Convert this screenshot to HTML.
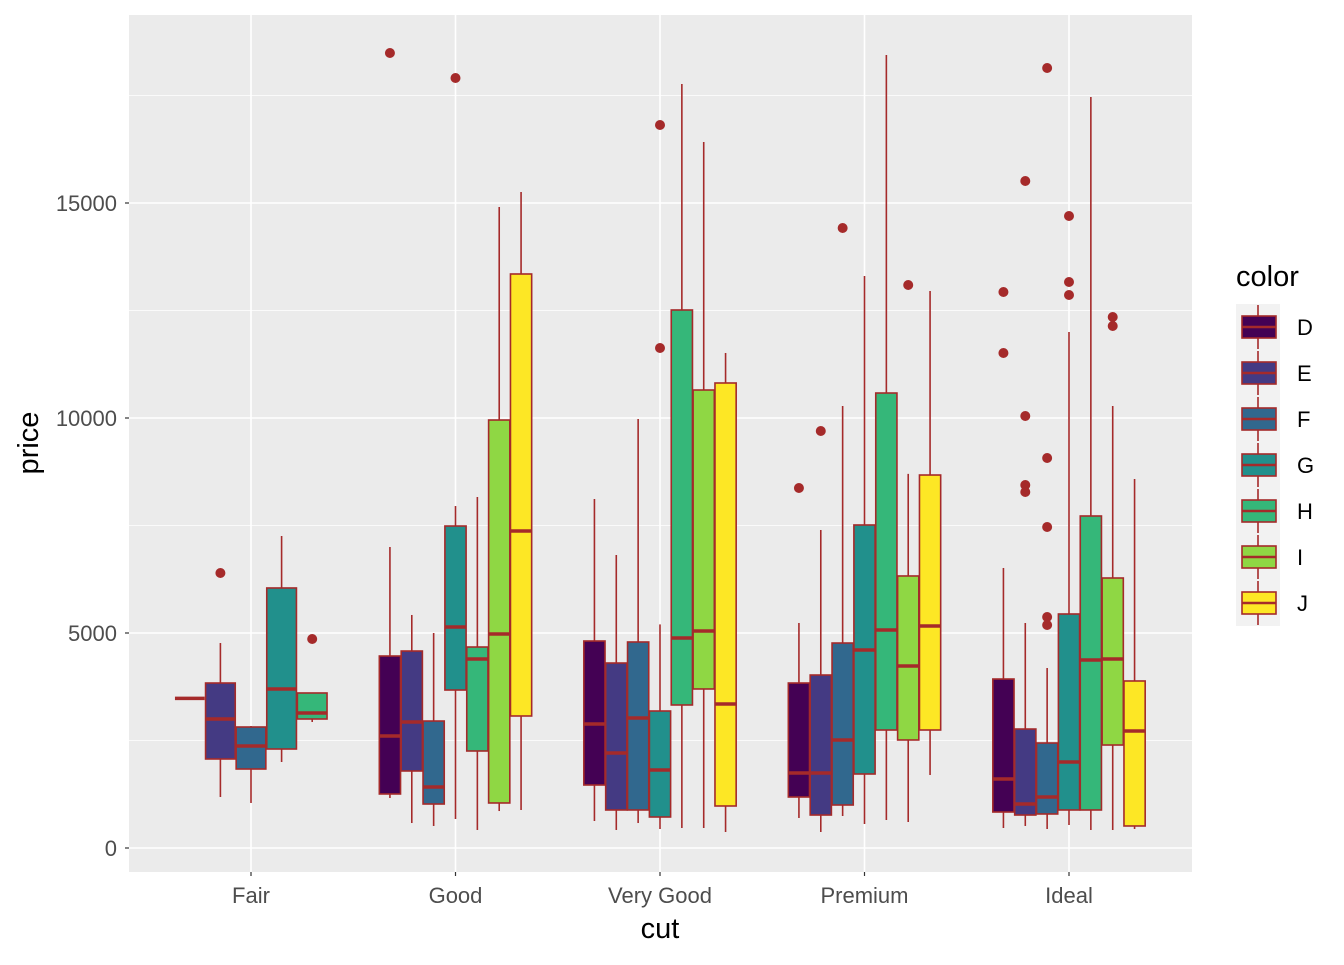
<!DOCTYPE html>
<html><head><meta charset="utf-8"><style>
body{margin:0;background:#fff;}
svg{font-family:"Liberation Sans",Arial,sans-serif;}
</style></head><body>
<svg id="chart" width="1344" height="960" xmlns="http://www.w3.org/2000/svg"></svg>
<script>
const cuts=["Fair","Good","Very Good","Premium","Ideal"];
const colorLevels=["D","E","F","G","H","I","J"];
const fills=["#440154","#443A83","#31688E","#21908C","#35B779","#8FD744","#FDE725"];
const yTicks=[0,5000,10000,15000];
// each box: [cutIndex, colorIndex, slotIndex, nSlots, lowWhisker, q1, median, q3, highWhisker]
const boxStats=[
[0,0,0,5,3480,3480,3480,3480,3480],
[0,1,1,5,1186,2070,3000,3837,4767],
[0,2,2,5,1047,1837,2372,2814,2837],
[0,3,3,5,2000,2302,3698,6047,7256],
[0,4,4,5,2930,3000,3140,3605,3605],
[1,0,0,7,1163,1256,2605,4465,7000],
[1,1,1,7,581,1791,2930,4581,5419],
[1,2,2,7,512,1023,1419,2953,5000],
[1,3,3,7,674,3674,5140,7488,7953],
[1,4,4,7,419,2256,4395,4674,8163],
[1,5,5,7,860,1047,4977,9953,14907],
[1,6,6,7,884,3070,7372,13349,15256],
[2,0,0,7,628,1465,2884,4814,8116],
[2,1,1,7,419,884,2209,4302,6814],
[2,2,2,7,581,884,3023,4791,9977],
[2,3,3,7,442,721,1814,3186,5200],
[2,4,4,7,465,3326,4884,12512,17767],
[2,5,5,7,465,3698,5047,10651,16419],
[2,6,6,7,372,977,3349,10814,11512],
[3,0,0,7,698,1186,1744,3837,5233],
[3,1,1,7,372,767,1744,4023,7395],
[3,2,2,7,744,1000,2512,4767,10279],
[3,3,3,7,558,1721,4605,7512,13302],
[3,4,4,7,651,2744,5070,10581,18442],
[3,5,5,7,605,2512,4233,6326,8700],
[3,6,6,7,1698,2744,5163,8674,12953],
[4,0,0,7,465,837,1605,3930,6512],
[4,1,1,7,512,767,1023,2767,5233],
[4,2,2,7,442,791,1186,2442,4186],
[4,3,3,7,535,884,2000,5442,12000],
[4,4,4,7,419,884,4372,7721,17465],
[4,5,5,7,419,2395,4395,6279,10279],
[4,6,6,7,442,512,2721,3884,8581]
];
// outliers: [cutIndex, slotIndex, nSlots, value]
const outliers=[
[0,1,5,6395],[0,4,5,4860],
[1,0,7,18488],[1,3,7,17907],
[2,3,7,16814],[2,3,7,11628],
[3,0,7,8372],[3,1,7,9698],[3,2,7,14419],[3,5,7,13093],
[4,0,7,12930],[4,0,7,11512],
[4,1,7,15512],[4,1,7,10047],[4,1,7,8442],[4,1,7,8279],
[4,2,7,18140],[4,2,7,9070],[4,2,7,7465],[4,2,7,5372],[4,2,7,5186],
[4,3,7,14698],[4,3,7,13163],[4,3,7,12860],
[4,5,7,12349],[4,5,7,12140]
];
const NS="http://www.w3.org/2000/svg";
const svg=document.getElementById("chart");
const P={l:129,r:1192,t:15,b:872};
const y=v=>848-v*0.043;
const xc=i=>251+i*204.5;
const groupW=153;
const slotX=(c,s,n)=>xc(c)-groupW/2+(s+0.5)*groupW/n;
function el(tag,attrs,parent){const e=document.createElementNS(NS,tag);for(const k in attrs)e.setAttribute(k,attrs[k]);(parent||svg).appendChild(e);return e;}
let e=el("rect",{x:P.l,y:P.t,width:P.r-P.l,height:P.b-P.t,fill:"#EBEBEB"});


for(let i=0;i<yTicks.length-1;i++){const v=(yTicks[i]+yTicks[i+1])/2;
 e=el("line",{x1:P.l,x2:P.r,y1:y(v),y2:y(v),stroke:"#fff","stroke-width":0.8});
 
 }
e=el("line",{x1:P.l,x2:P.r,y1:y(17500),y2:y(17500),stroke:"#fff","stroke-width":0.8});


yTicks.forEach(v=>{
 e=el("line",{x1:P.l,x2:P.r,y1:y(v),y2:y(v),stroke:"#fff","stroke-width":1.6});
 
 
 e=el("line",{x1:P.l-4,x2:P.l,y1:y(v),y2:y(v),stroke:"#333","stroke-width":1.2});
 
 
 e=el("text",{x:P.l-12,y:y(v)+8,"text-anchor":"end","font-size":22,fill:"#4D4D4D"});e.textContent=v;
 
 
});
cuts.forEach((c,i)=>{
 e=el("line",{x1:xc(i),x2:xc(i),y1:P.t,y2:P.b,stroke:"#fff","stroke-width":1.6});
 
 
 e=el("line",{x1:xc(i),x2:xc(i),y1:P.b,y2:P.b+4,stroke:"#333","stroke-width":1.2});
 
 
 e=el("text",{x:xc(i),y:P.b+31,"text-anchor":"middle","font-size":22,fill:"#4D4D4D"});e.textContent=c;
 
 
});
const BR="#A52A2A";
boxStats.forEach(b=>{
 const [c,col,s,n,lo,q1,med,q3,hi]=b;
 const cx=slotX(c,s,n), w=groupW/n*0.97;
 const g=el("g",{});
 
 
 el("line",{x1:cx,x2:cx,y1:y(hi),y2:y(q3),stroke:BR,"stroke-width":1.6},g);
 el("line",{x1:cx,x2:cx,y1:y(q1),y2:y(lo),stroke:BR,"stroke-width":1.6},g);
 el("rect",{x:cx-w/2,y:y(q3),width:w,height:Math.max(0,y(q1)-y(q3)),fill:fills[col],stroke:BR,"stroke-width":1.6},g);
 el("line",{x1:cx-w/2,x2:cx+w/2,y1:y(med),y2:y(med),stroke:BR,"stroke-width":3.5},g);
});
outliers.forEach(o=>{
 e=el("circle",{cx:slotX(o[0],o[1],o[2]),cy:y(o[3]),r:5,fill:BR});
 
 
});
e=el("text",{x:660,y:938,"text-anchor":"middle","font-size":29,fill:"#000"});e.textContent="cut";


e=el("text",{x:38,y:443,"text-anchor":"middle","font-size":29,fill:"#000",transform:"rotate(-90 38 443)"});e.textContent="price";


e=el("text",{x:1236,y:286,"font-size":29,fill:"#000"});e.textContent="color";


colorLevels.forEach((lv,i)=>{
 const ky=304+i*46;
 const g=el("g",{});
 
 
 el("rect",{x:1236,y:ky,width:44,height:46,fill:"#F2F2F2"},g);
 el("line",{x1:1258,x2:1258,y1:ky+1,y2:ky+45,stroke:BR,"stroke-width":1.6},g);
 el("rect",{x:1242,y:ky+12,width:34,height:22,fill:fills[i],stroke:BR,"stroke-width":1.6},g);
 el("line",{x1:1242,x2:1276,y1:ky+23,y2:ky+23,stroke:BR,"stroke-width":2.5},g);
 const t=el("text",{x:1297,y:ky+31,"font-size":22,fill:"#000"},g);t.textContent=lv;
});
</script>
</body></html>
